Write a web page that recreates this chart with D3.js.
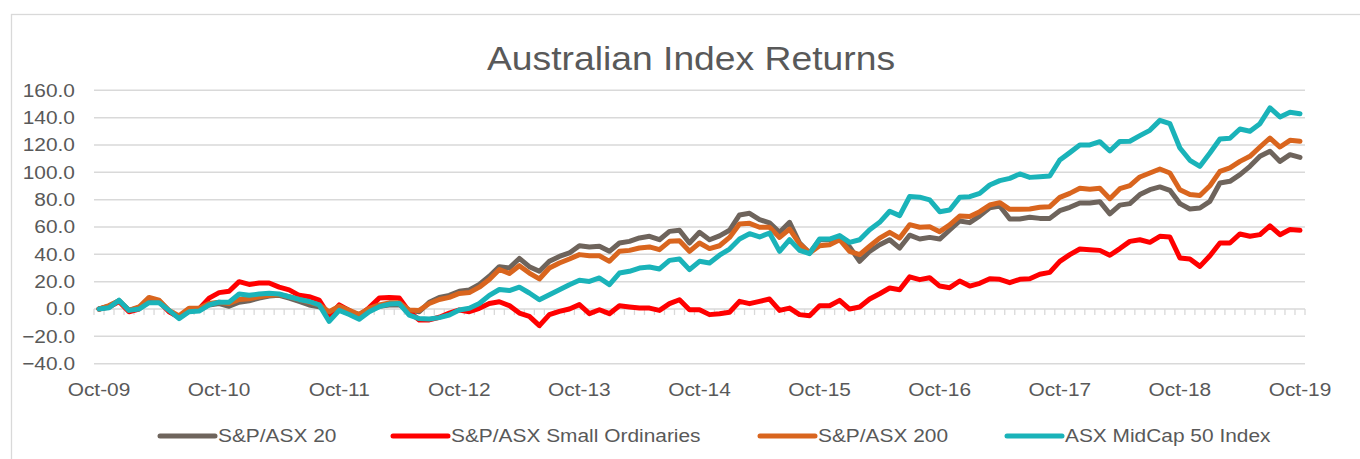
<!DOCTYPE html>
<html>
<head>
  <meta charset="utf-8">
  <title>Australian Index Returns</title>
  <style>
    body { margin: 0; background: #fff; }
    text { font-family: Arial, "Liberation Sans", sans-serif; fill: #595959; }
  </style>
</head>
<body>
  <script src="https://cdn.jsdelivr.net/npm/d3@7"></script>
  <script>
    // monthly returns since Oct-09 (cumulative %)
    var xTickLabels = ["Oct-09", "Oct-10", "Oct-11", "Oct-12", "Oct-13", "Oct-14",
                       "Oct-15", "Oct-16", "Oct-17", "Oct-18", "Oct-19"];
    var yTicks = [-40, -20, 0, 20, 40, 60, 80, 100, 120, 140, 160];
    var seriesNames = ["S&P/ASX 20", "S&P/ASX Small Ordinaries", "S&P/ASX 200", "ASX MidCap 50 Index"];

    var asx20 = [
      0, 2, 6, -1, 1, 7, 6, -1.5, -6, 0,
      -1, 3, 4, 2, 5, 6, 8, 9.5, 10, 8,
      5.5, 3, 1.7, -3, 2, -2, -4, 0, 2, 3,
      3, -1, -2, 5, 8.5, 10, 13, 14, 18, 24,
      31, 30, 37, 31, 27.6, 34.9, 38.5, 41, 46.3, 45.4,
      45.9, 42.2, 48.3, 49.5, 52, 53.2, 50.7, 56.8, 57.6, 48.3,
      56.1, 50.7, 53.5, 57.6, 68.8, 70, 65.4, 63, 56.1, 63.4,
      48.3, 41, 50.7, 50.7, 52.7, 45.4, 34.9, 42.2, 47, 50.7,
      44.6, 54, 51.2, 52.4, 51.2, 57.8, 64.4, 63.2, 68.1, 74.1,
      75.4, 65.9, 65.9, 67.1, 66.3, 66.3, 71.9, 74.4, 77.6, 77.6,
      78.5, 69.6, 76, 77.1, 83.7, 87.3, 89.3, 86.8, 77.1, 73.2,
      73.9, 78.8, 92.2, 93.4, 98.3, 104.4, 111.7, 115.4, 108, 112.9, 110.9
    ];
    var smallOrds = [
      0, 1.5, 5.5, -2, 0, 7, 5.5, -2, -6, -1,
      0, 8, 12, 13, 20, 18, 19, 19, 16, 14,
      10, 9, 6.5, -5, 3, -1, -5, 1, 8, 8.5,
      8, -2, -8, -8, -6, -3, -0.7, -2, 0.5, 4,
      5.3, 2.5, -3, -5.4, -12.2, -4.1, -1.7, 0, 3.2, -3.4,
      -0.5, -3.4, 2.4, 1.5, 0.7, 0.7, -1, 3.9, 6.8, -0.5,
      -0.5, -4.1, -3.4, -2.4, 5.6, 3.9, 5.6, 7.3, -1, 0.7,
      -4.1, -4.9, 2.4, 2.4, 6.3, 0, 1.5, 7.3, 11.2, 15.4,
      14.1, 23.5, 21.5, 22.9, 16.8, 15.6, 20.5, 16.8, 18.8, 22.2,
      21.7, 19.3, 21.7, 22.2, 25.4, 26.8, 34.9, 39.8, 43.9, 43.4,
      42.9, 39.3, 44.2, 49.5, 50.7, 48.8, 53.2, 52.7, 37.4, 36.6,
      31.2, 39, 48.3, 48.3, 54.9, 53.2, 54.4, 60.9, 54.4, 58.1, 57.6
    ];
    var asx200 = [
      0, 2.5, 6, -1, 1.5, 8.5, 6.5, -1, -5, 0.5,
      0.5, 4, 5, 4, 7, 7.5, 9, 10, 10.5, 9,
      7, 5, 3, -2, 2, -1, -4, 0.5, 3, 4.5,
      4.5, -0.7, -1, 4, 7, 8.5, 11.4, 12, 16, 21.6,
      28.9, 26, 31.7, 26.3, 22, 30, 33.7, 36.6, 39.8, 39,
      39, 34.9, 42.2, 42.9, 44.6, 45.4, 43.4, 49.5, 50, 42.2,
      48.3, 44.2, 46.3, 52.4, 62.2, 62.7, 59.8, 59.8, 52.4, 58.5,
      47.6, 41, 46.3, 47, 50.7, 42.2, 39.8, 45.9, 51.9, 56.1,
      51.9, 61.7, 59.8, 60.2, 56.6, 61.5, 68, 67.6, 71.2, 76.1,
      77.8, 72.9, 72.9, 73.2, 74.4, 74.9, 81.7, 84.6, 88.3, 87.6,
      88.3, 80.7, 88, 90.2, 96.6, 99.5, 102.4, 99.5, 87.3, 83.7,
      83, 90.2, 100.7, 103.2, 108, 111.7, 118.5, 125.1, 118.5, 123.4, 122.7
    ];
    var midCap50 = [
      0, 1, 6.5, -1, 0, 4.6, 4.6, -1, -7, -2,
      -1.5, 3, 5, 5, 11, 10, 11, 11.5, 11, 9,
      7, 5.5, 3, -9, -1, -4, -7.5, -2, 1.7, 3.6,
      4, -4.4, -7, -7.3, -6.3, -4.4, -0.7, 0.5, 4, 10,
      14.3, 13.5, 16, 11.7, 6.8, 10.5, 14.1, 17.8, 21, 20.2,
      22.7, 17.8, 26.3, 27.6, 30, 30.7, 29.3, 35.6, 36.6, 28.8,
      34.9, 33.7, 39.4, 43.9, 51.2, 55.1, 52.7, 55.6, 42.2, 50.7,
      42.9, 40.5, 51.2, 51.2, 53.7, 48.8, 50.7, 58, 63.4, 71.5,
      68.3, 82.3, 81.8, 79.8, 71.2, 72.4, 81.7, 82.2, 84.6, 90.7,
      93.9, 95.6, 98.8, 96.3, 96.8, 97.3, 109, 114.4, 120, 120,
      122.4, 115.6, 122.6, 122.7, 126.8, 130.7, 138, 135.6, 117.8, 108.8,
      104.4, 114.1, 124.4, 124.9, 131.7, 130, 135.6, 147.1, 140.5, 143.9, 142.9
    ];
    var seriesValues = [asx20, smallOrds, asx200, midCap50];
    var seriesColors = ["#6e645c", "#ff0000", "#d9651e", "#1ab3b9"];

    var W = 1360, H = 459;
    var plotLeft = 94, plotRight = 1305, plotTop = 90.3, plotBottom = 363.7;
    var sx = 1.13;  // the source text looks a bit wide, stretch it

    var svg = d3.select("body").append("svg")
      .attr("width", W).attr("height", H);

    // chart frame
    svg.append("rect")
      .attr("x", 11.5).attr("y", 14.5)
      .attr("width", 1400).attr("height", 500)
      .attr("fill", "none").attr("stroke", "#d9d9d9").attr("stroke-width", 1.3);

    var idx = d3.range(asx20.length);
    var x = d3.scaleBand().domain(idx).range([plotLeft, plotRight]).padding(0);
    var xc = function(i) { return x(i) + x.bandwidth() / 2; };
    var y = d3.scaleLinear().domain([-40, 160]).range([plotBottom, plotTop]);

    // title
    svg.append("g").attr("transform", "translate(691,70)")
      .append("text")
      .attr("transform", "scale(" + sx + ",1)")
      .attr("text-anchor", "middle")
      .style("font-size", "33px")
      .text("Australian Index Returns");

    // gridlines
    svg.append("g").selectAll("line")
      .data(yTicks).enter().append("line")
      .attr("x1", plotLeft).attr("x2", plotRight)
      .attr("y1", function(d) { return y(d); })
      .attr("y2", function(d) { return y(d); })
      .attr("stroke", "#d9d9d9").attr("stroke-width", 1.5);

    // y axis labels
    var yAxis = svg.append("g").attr("transform", "translate(" + plotLeft + ",0)")
      .call(d3.axisLeft(y).tickValues(yTicks).tickFormat(d3.format(".1f")).tickSize(0).tickPadding(0));
    yAxis.select(".domain").remove();
    yAxis.selectAll("text")
      .attr("x", -19 / sx)
      .attr("transform", "scale(" + sx + ",1)")
      .style("font-size", "18.5px")
      .style("font-family", "Arial, 'Liberation Sans', sans-serif")
      .attr("fill", "#595959");

    // category tick marks on the zero line
    svg.append("g").selectAll("line")
      .data(d3.range(asx20.length + 1)).enter().append("line")
      .attr("x1", function(i) { return plotLeft + i * x.step(); })
      .attr("x2", function(i) { return plotLeft + i * x.step(); })
      .attr("y1", y(0)).attr("y2", y(0) + 6)
      .attr("stroke", "#d9d9d9").attr("stroke-width", 1.3);

    // x labels every 12 months
    svg.append("g").selectAll("g")
      .data(xTickLabels).enter().append("g")
      .attr("transform", function(d, k) { return "translate(" + xc(k * 12) + ",396)"; })
      .append("text")
      .attr("transform", "scale(" + sx + ",1)")
      .attr("text-anchor", "middle")
      .style("font-size", "18.5px")
      .text(function(d) { return d; });

    // lines
    var line = d3.line()
      .x(function(d, i) { return xc(i); })
      .y(function(d) { return y(d); });

    svg.append("g").selectAll("path")
      .data(seriesValues).enter().append("path")
      .attr("d", line)
      .attr("fill", "none")
      .attr("stroke", function(d, k) { return seriesColors[k]; })
      .attr("stroke-width", 5)
      .attr("stroke-linejoin", "round")
      .attr("stroke-linecap", "round");

    // legend
    var legendX = [160, 393, 760, 1007];
    var leg = svg.append("g").selectAll("g")
      .data(seriesNames).enter().append("g")
      .attr("transform", function(d, k) { return "translate(" + legendX[k] + ",436)"; });
    leg.append("line")
      .attr("x1", 0).attr("x2", 55).attr("y1", 0).attr("y2", 0)
      .attr("stroke", function(d, k) { return seriesColors[k]; })
      .attr("stroke-width", 5).attr("stroke-linecap", "round");
    leg.append("text")
      .attr("transform", "translate(58,0) scale(" + sx + ",1)")
      .attr("dy", "0.35em")
      .style("font-size", "18.5px")
      .text(function(d) { return d; });
  </script>
</body>
</html>
